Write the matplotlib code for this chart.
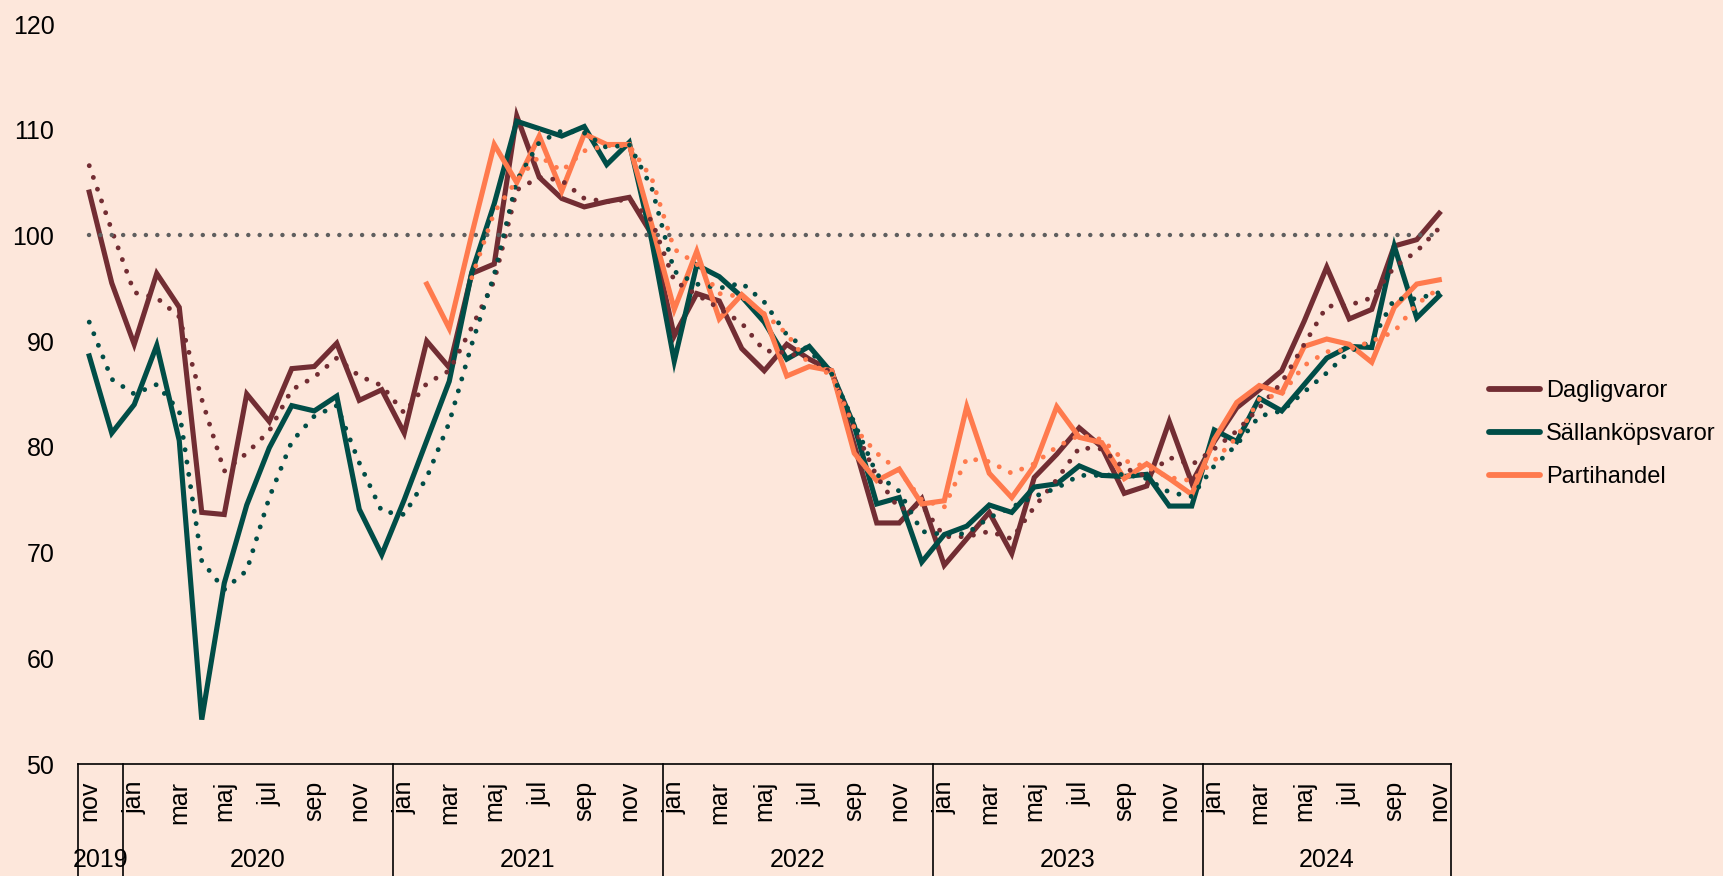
import matplotlib
matplotlib.use("Agg")
import matplotlib.pyplot as plt
import matplotlib.transforms as mtransforms
import numpy as np

plt.rcParams['font.family'] = ['Liberation Sans', 'DejaVu Sans']

# ---------------- data ----------------
month_cycle = ["jan", "feb", "mar", "apr", "maj", "jun",
               "jul", "aug", "sep", "okt", "nov", "dec"]
n_months = 61                       # nov 2019 .. nov 2024
months = [month_cycle[(10 + i) % 12] for i in range(n_months)]
years = ["2019", "2020", "2021", "2022", "2023", "2024"]
year_counts = [2, 12, 12, 12, 12, 11]

dagligvaror = [104.1, 95.5, 89.7, 96.4, 93.2, 73.8, 73.6, 85.0, 82.4, 87.4,
               87.6, 89.8, 84.4, 85.4, 81.3, 90.0, 87.5, 96.4, 97.3, 111.3,
               105.5, 103.5, 102.7, 103.2, 103.6, 100.1, 90.5, 94.5, 93.8, 89.3,
               87.2, 89.7, 88.3, 87.2, 80.2, 72.8, 72.8, 75.1, 68.8, 71.3,
               73.8, 69.9, 77.1, 79.3, 81.8, 80.0, 75.6, 76.3, 82.4, 76.6,
               80.5, 83.7, 85.4, 87.2, 91.9, 97.0, 92.1, 93.0, 99.0, 99.6,
               102.1]
sallankopsvaror = [88.6, 81.3, 84.0, 89.6, 80.6, 54.2, 67.1, 74.5, 79.9, 83.9,
                   83.4, 84.8, 74.1, 69.8, 75.0, 80.6, 86.2, 96.5, 103.0, 110.8,
                   110.1, 109.4, 110.3, 106.7, 108.8, 99.5, 88.1, 97.2, 96.1, 94.2,
                   91.8, 88.3, 89.5, 87.0, 82.0, 74.6, 75.2, 69.1, 71.7, 72.5,
                   74.5, 73.8, 76.2, 76.5, 78.2, 77.3, 77.2, 77.4, 74.4, 74.4,
                   81.6, 80.5, 84.6, 83.4, 85.9, 88.4, 89.5, 89.4, 99.0, 92.2,
                   94.3]
# Partihandel starts feb 2021 (index 15)
partihandel_start = 15
partihandel = [95.4, 91.2, 100.1, 108.6, 105.0, 109.4, 104.2, 109.6, 108.6, 108.6,
               101.0, 93.0, 98.5, 92.1, 94.4, 92.5, 86.7, 87.6, 87.2, 79.4,
               76.8, 77.9, 74.6, 74.9, 83.8, 77.5, 75.2, 78.2, 83.8, 80.9,
               80.4, 77.0, 78.4, 77.0, 75.5, 80.7, 84.2, 85.8, 85.1, 89.5,
               90.2, 89.7, 88.0, 93.2, 95.4, 95.8]

# trend series (dotted)
dagligvaror_trend = [106.6, 100.5, 94.6, 94.1, 92.3, 84.5, 77.7, 79.4, 81.5, 85.4,
                     86.6, 88.4, 86.7, 85.8, 83.2, 86.0, 87.2, 91.3, 95.7, 104.3,
                     105.5, 105.2, 103.5, 103.2, 103.4, 101.4, 95.7, 94.4, 93.1, 91.7,
                     89.1, 88.9, 88.3, 87.0, 81.8, 77.2, 74.1, 74.5, 71.5, 71.5,
                     72.0, 71.3, 74.3, 76.9, 79.9, 79.8, 78.0, 77.2, 79.0, 78.3,
                     79.8, 81.5, 83.7, 86.1, 89.7, 93.3, 93.4, 94.1, 97.0, 98.5,
                     100.7]
sallankopsvaror_trend = [91.8, 86.4, 85.0, 85.9, 83.4, 69.2, 66.5, 68.3, 75.2, 80.5,
                         82.9, 83.9, 78.5, 73.9, 73.6, 77.1, 82.3, 89.7, 96.3, 105.2,
                         108.8, 109.9, 109.7, 108.3, 108.6, 104.5, 96.6, 95.4, 95.0, 95.5,
                         93.7, 90.6, 89.1, 86.9, 82.3, 77.4, 75.8, 72.0, 71.7, 71.8,
                         73.3, 74.3, 75.3, 76.1, 77.3, 77.3, 77.4, 77.0, 75.7, 75.3,
                         78.2, 80.2, 82.9, 83.4, 85.2, 87.0, 89.0, 90.0, 94.0, 94.0,
                         94.6]
partihandel_trend_start = 17
partihandel_trend = [96.0, 102.2, 105.2, 107.5, 106.1, 108.0, 108.5, 108.5, 105.4, 98.7,
                     97.3, 94.5, 94.2, 92.6, 90.7, 87.8, 86.8, 81.8, 79.4, 77.7,
                     75.0, 74.3, 78.9, 78.6, 77.5, 78.4, 80.0, 81.1, 80.7, 78.7,
                     78.1, 77.1, 76.8, 78.7, 80.9, 84.5, 85.0, 87.7, 89.0, 89.2,
                     90.0, 90.9, 93.5, 95.0]
reference_level = 100

series_names = ["Dagligvaror", "Sällanköpsvaror", "Partihandel"]
yticks = [50, 60, 70, 80, 90, 100, 110, 120]

# ---------------- style ----------------
BG = "#FDE7DB"
C_DAG = "#722D33"
C_SAL = "#004D47"
C_PAR = "#FF7A4D"
C_REF = "#5F5F5F"
FS = 18

W, H = 1723, 876
fig = plt.figure(figsize=(W / 100, H / 100), dpi=100, facecolor=BG)
ax_left, ax_right, ax_top, ax_bot = 78, 1450.5, 24, 764
ax = fig.add_axes([ax_left / W, 1 - ax_bot / H,
                   (ax_right - ax_left) / W, (ax_bot - ax_top) / H])
ax.set_facecolor(BG)

x = np.arange(n_months)
x_par = np.arange(partihandel_start, partihandel_start + len(partihandel))
x_part = np.arange(partihandel_trend_start, partihandel_trend_start + len(partihandel_trend))

LW = 3.7
dot_style = (0, (0.01, 2.55))
ax.plot(x, dagligvaror, color=C_DAG, lw=LW, solid_joinstyle="miter", label=series_names[0], zorder=3)
ax.plot(x, sallankopsvaror, color=C_SAL, lw=LW, solid_joinstyle="miter", label=series_names[1], zorder=3)
ax.plot(x_par, partihandel, color=C_PAR, lw=LW, solid_joinstyle="miter", label=series_names[2], zorder=3)

ax.plot(x, dagligvaror_trend, color=C_DAG, lw=3.5, linestyle=dot_style, dash_capstyle="round", zorder=4)
ax.plot(x, sallankopsvaror_trend, color=C_SAL, lw=3.5, linestyle=dot_style, dash_capstyle="round", zorder=4)
ax.plot(x_part, partihandel_trend, color=C_PAR, lw=3.5, linestyle=dot_style, dash_capstyle="round", zorder=4)

ax.hlines(reference_level, x[0], x[-1], color=C_REF, lw=3.2, linestyles=[dot_style],
          capstyle="round", zorder=5)

ax.set_xlim(-0.5, n_months - 0.5)
ax.set_ylim(50, 120)
ax.set_yticks(yticks)
ax.set_yticklabels([str(v) for v in yticks], fontsize=FS)
ax.tick_params(axis="y", length=0, pad=17)

ax.set_xticks(x[::2])
ax.set_xticklabels(months[::2], rotation=90, fontsize=FS)
ax.tick_params(axis="x", length=0, pad=12)

for s in ["left", "right", "top"]:
    ax.spines[s].set_visible(False)
ax.spines["bottom"].set_linewidth(1.2)
ax.spines["bottom"].set_color("black")

# year groups
trans = mtransforms.blended_transform_factory(ax.transData, fig.transFigure)
y_axis_fig = 1 - ax_bot / H
bounds = np.concatenate([[0], np.cumsum(year_counts)]) - 0.5
for b in bounds:
    ax.plot([b, b], [y_axis_fig, 0], transform=trans, color="black", lw=1.2, clip_on=False)
for i, yr in enumerate(years):
    cx = (bounds[i] + bounds[i + 1]) / 2
    ax.text(cx, 1 - 860 / H, yr, transform=trans, ha="center", va="center", fontsize=FS)

# legend
handles = [plt.Line2D([0], [0], color=c, lw=4.2, solid_capstyle="round")
           for c in (C_DAG, C_SAL, C_PAR)]
fig.legend(handles, series_names, loc="center left",
           bbox_to_anchor=(1468 / W, 1 - 434 / H), frameon=False,
           fontsize=17, handlelength=2.15, handletextpad=0.25, labelspacing=0.88)

fig.savefig("out.png", dpi=100, facecolor=BG)
